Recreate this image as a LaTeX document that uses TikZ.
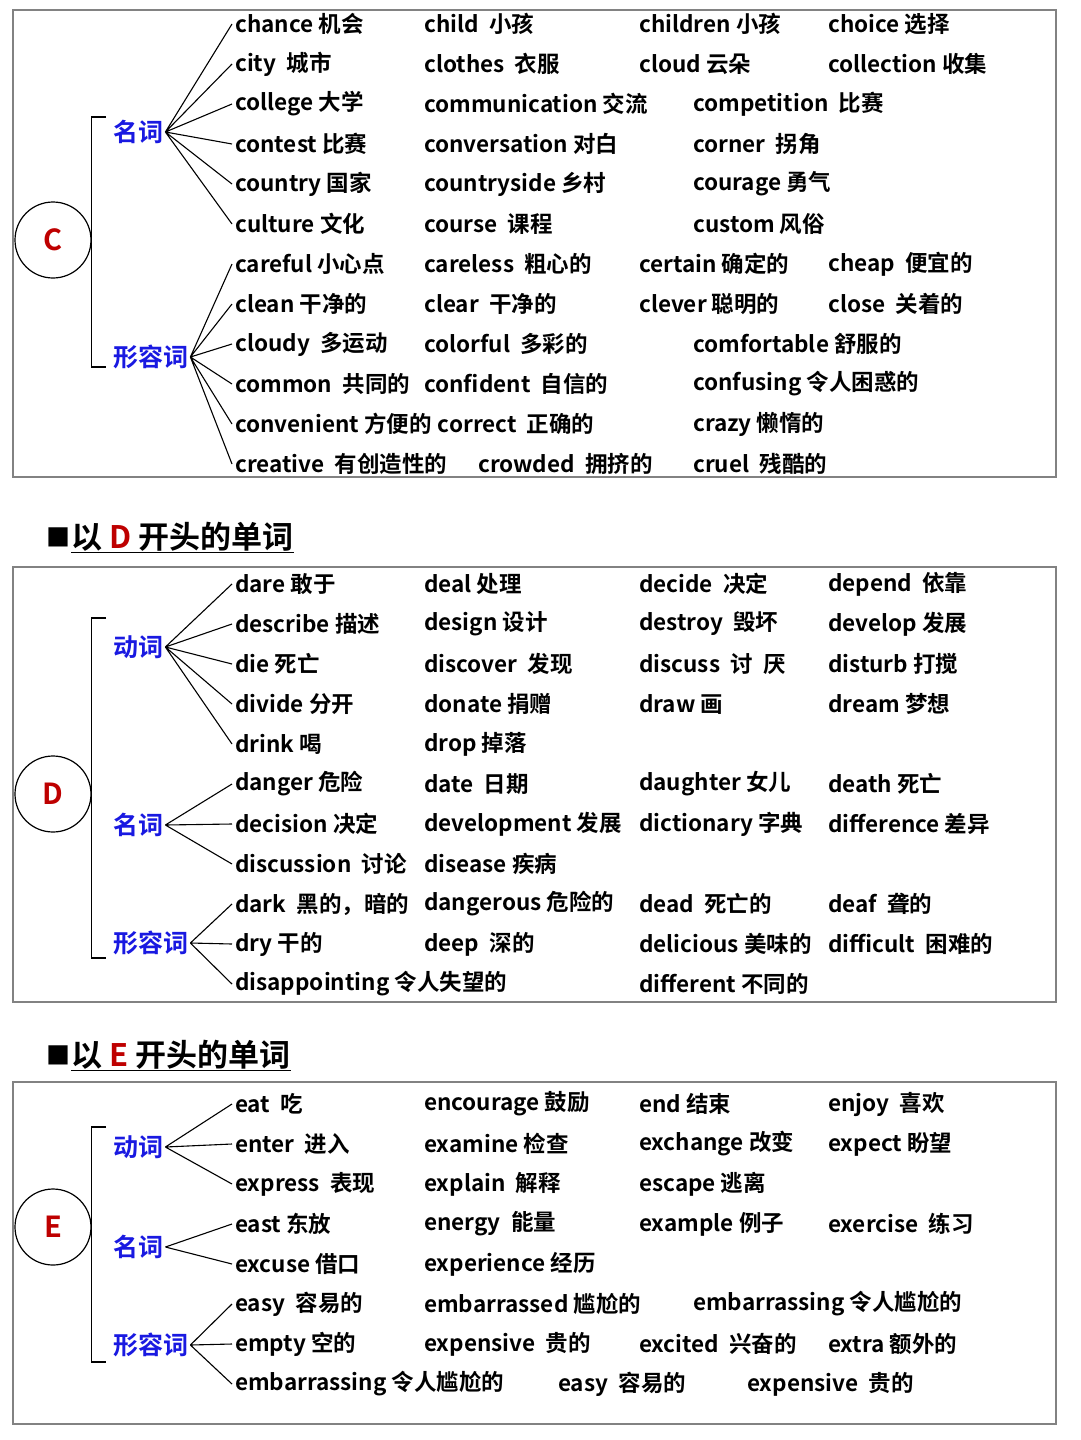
\documentclass[tikz,border=0pt]{standalone}
\usepackage{fontspec}
\setmainfont{Noto Sans CJK SC Bold}
\usetikzlibrary{positioning}
\definecolor{catblue}{RGB}{25,25,225}
\definecolor{letred}{RGB}{190,0,0}
\definecolor{framegray}{RGB}{130,130,130}

\begin{document}
\begin{tikzpicture}[x=1pt, y=-1pt,
  every node/.style={inner sep=0pt},
  word/.style={anchor=west, inner xsep=3pt, font=\fontsize{22.5}{22.5}\selectfont},
  cat/.style={anchor=west, inner xsep=2pt, text=catblue, font=\fontsize{25}{25}\selectfont},
  letter/.style={draw, circle, line width=1.2pt, minimum size=76pt, text=letred, font=\fontsize{29}{29}\selectfont},
  title/.style={anchor=west, font=\fontsize{31}{31}\selectfont},
  mark sq/.style={anchor=west, font=\fontsize{24}{24}\selectfont},
  panel/.style={draw=framegray, line width=1.3pt},
  fan/.style={line width=1.1pt},
  brace/.style={line width=1.3pt}]
  \useasboundingbox (0,0) rectangle (1080,1440);

  % C
  \draw[panel] (13,10) rectangle (1056,477);
  \node[letter] (lc) at (53,240) {C};
  \node[cat] (cn) at (111,132) {名词};
  \node[cat] (ca) at (111,357) {形容词};
  \draw[brace] (106,117) -| (lc.east) |- (106,367);

  \node[word] (c1a) at (232,24) {chance 机会};
  \node[word] (c1b) at (421,24) {child~~小孩};
  \node[word] (c1c) at (636,24) {children 小孩};
  \node[word] (c1d) at (825,24) {choice 选择};
  \node[word] (c2a) at (232,64) {city~~城市};
  \node[word] (c2b) at (421,64) {clothes~~衣服};
  \node[word] (c2c) at (636,64) {cloud 云朵};
  \node[word] (c2d) at (825,64) {collection 收集};
  \node[word] (c3a) at (232,104) {college 大学};
  \node[word] (c3b) at (421,104) {communication 交流};
  \node[word] (c3c) at (690,104) {competition~~比赛};
  \node[word] (c4a) at (232,144) {contest 比赛};
  \node[word] (c4b) at (421,144) {conversation 对白};
  \node[word] (c4c) at (690,144) {corner~~拐角};
  \node[word] (c5a) at (232,184) {country 国家};
  \node[word] (c5b) at (421,184) {countryside 乡村};
  \node[word] (c5c) at (690,184) {courage 勇气};
  \node[word] (c6a) at (232,224) {culture 文化};
  \node[word] (c6b) at (421,224) {course~~课程};
  \node[word] (c6c) at (690,224) {custom 风俗};

  \node[word] (c7a) at (232,264) {careful 小心点};
  \node[word] (c7b) at (421,264) {careless~~粗心的};
  \node[word] (c7c) at (636,264) {certain 确定的};
  \node[word] (c7d) at (825,264) {cheap~~便宜的};
  \node[word] (c8a) at (232,304) {clean 干净的};
  \node[word] (c8b) at (421,304) {clear~~干净的};
  \node[word] (c8c) at (636,304) {clever 聪明的};
  \node[word] (c8d) at (825,304) {close~~关着的};
  \node[word] (c9a) at (232,344) {cloudy~~多运动};
  \node[word] (c9b) at (421,344) {colorful~~多彩的};
  \node[word] (c9c) at (690,344) {comfortable 舒服的};
  \node[word] (c10a) at (232,384) {common~~共同的};
  \node[word] (c10b) at (421,384) {confident~~自信的};
  \node[word] (c10c) at (690,384) {confusing 令人困惑的};
  \node[word] (c11a) at (232,424) {convenient 方便的};
  \node[word, right=0pt of c11a] (c11b) {correct~~正确的};
  \node[word] (c11c) at (690,424) {crazy 懒惰的};
  \node[word] (c12a) at (232,464) {creative~~有创造性的};
  \node[word] (c12b) at (475,464) {crowded~~拥挤的};
  \node[word] (c12c) at (690,464) {cruel~~残酷的};

  \draw[fan] (cn.east) -- (c1a.west) (cn.east) -- (c2a.west) (cn.east) -- (c3a.west)
    (cn.east) -- (c4a.west) (cn.east) -- (c5a.west) (cn.east) -- (c6a.west);
  \draw[fan] (ca.east) -- (c7a.west) (ca.east) -- (c8a.west) (ca.east) -- (c9a.west)
    (ca.east) -- (c10a.west) (ca.east) -- (c11a.west) (ca.east) -- (c12a.west);

  % D
  \node[mark sq] (dsq) at (46,537) {■};
  \node[title, right=1pt of dsq] (dtitle) {以 \textcolor{letred}{D} 开头的单词};
  \draw[line width=1.2pt] ([yshift=-1pt]dtitle.south west) -- ([yshift=-1pt]dtitle.south east);
  \draw[panel] (13,567) rectangle (1056,1002);
  \node[letter] (ld) at (53,794) {D};
  \node[cat] (dv) at (111,647) {动词};
  \node[cat] (dn) at (111,825) {名词};
  \node[cat] (da) at (111,943) {形容词};
  \draw[brace] (106,618) -| (ld.east) |- (106,958);

  \node[word] (d1a) at (232,584) {dare 敢于};
  \node[word] (d1b) at (421,584) {deal 处理};
  \node[word] (d1c) at (636,584) {decide~~决定};
  \node[word] (d1d) at (825,584) {depend~~依靠};
  \node[word] (d2a) at (232,624) {describe 描述};
  \node[word] (d2b) at (421,624) {design 设计};
  \node[word] (d2c) at (636,624) {destroy~~毁坏};
  \node[word] (d2d) at (825,624) {develop 发展};
  \node[word] (d3a) at (232,664) {die 死亡};
  \node[word] (d3b) at (421,664) {discover~~发现};
  \node[word] (d3c) at (636,664) {discuss~~讨~~厌};
  \node[word] (d3d) at (825,664) {disturb 打搅};
  \node[word] (d4a) at (232,704) {divide 分开};
  \node[word] (d4b) at (421,704) {donate 捐赠};
  \node[word] (d4c) at (636,704) {draw 画};
  \node[word] (d4d) at (825,704) {dream 梦想};
  \node[word] (d5a) at (232,744) {drink 喝};
  \node[word] (d5b) at (421,744) {drop 掉落};

  \node[word] (d6a) at (232,784) {danger 危险};
  \node[word] (d6b) at (421,784) {date~~日期};
  \node[word] (d6c) at (636,784) {daughter 女儿};
  \node[word] (d6d) at (825,784) {death 死亡};
  \node[word] (d7a) at (232,824) {decision 决定};
  \node[word] (d7b) at (421,824) {development 发展};
  \node[word] (d7c) at (636,824) {dictionary 字典};
  \node[word] (d7d) at (825,824) {difference 差异};
  \node[word] (d8a) at (232,864) {discussion~~讨论};
  \node[word] (d8b) at (421,864) {disease 疾病};

  \node[word] (d9a) at (232,904) {dark~~黑的，暗的};
  \node[word] (d9b) at (421,904) {dangerous 危险的};
  \node[word] (d9c) at (636,904) {dead~~死亡的};
  \node[word] (d9d) at (825,904) {deaf~~聋的};
  \node[word] (d10a) at (232,944) {dry 干的};
  \node[word] (d10b) at (421,944) {deep~~深的};
  \node[word] (d10c) at (636,944) {delicious 美味的};
  \node[word] (d10d) at (825,944) {difficult~~困难的};
  \node[word] (d11a) at (232,984) {disappointing 令人失望的};
  \node[word] (d11c) at (636,984) {different 不同的};

  \draw[fan] (dv.east) -- (d1a.west) (dv.east) -- (d2a.west) (dv.east) -- (d3a.west)
    (dv.east) -- (d4a.west) (dv.east) -- (d5a.west);
  \draw[fan] (dn.east) -- (d6a.west) (dn.east) -- (d7a.west) (dn.east) -- (d8a.west);
  \draw[fan] (da.east) -- (d9a.west) (da.east) -- (d10a.west) (da.east) -- (d11a.west);

  % E
  \node[mark sq] (esq) at (46,1055) {■};
  \node[title, right=1pt of esq] (etitle) {以 \textcolor{letred}{E} 开头的单词};
  \draw[line width=1.2pt] ([yshift=-1pt]etitle.south west) -- ([yshift=-1pt]etitle.south east);
  \draw[panel] (13,1082) rectangle (1056,1424);
  \node[letter] (le) at (53,1227) {E};
  \node[cat] (ev) at (111,1147) {动词};
  \node[cat] (en) at (111,1247) {名词};
  \node[cat] (ea) at (111,1345) {形容词};
  \draw[brace] (106,1127) -| (le.east) |- (106,1362);

  \node[word] (e1a) at (232,1104) {eat~~吃};
  \node[word] (e1b) at (421,1104) {encourage 鼓励};
  \node[word] (e1c) at (636,1104) {end 结束};
  \node[word] (e1d) at (825,1104) {enjoy~~喜欢};
  \node[word] (e2a) at (232,1144) {enter~~进入};
  \node[word] (e2b) at (421,1144) {examine 检查};
  \node[word] (e2c) at (636,1144) {exchange 改变};
  \node[word] (e2d) at (825,1144) {expect 盼望};
  \node[word] (e3a) at (232,1184) {express~~表现};
  \node[word] (e3b) at (421,1184) {explain~~解释};
  \node[word] (e3c) at (636,1184) {escape 逃离};

  \node[word] (e4a) at (232,1224) {east 东放};
  \node[word] (e4b) at (421,1224) {energy~~能量};
  \node[word] (e4c) at (636,1224) {example 例子};
  \node[word] (e4d) at (825,1224) {exercise~~练习};
  \node[word] (e5a) at (232,1264) {excuse 借口};
  \node[word] (e5b) at (421,1264) {experience 经历};

  \node[word] (e6a) at (232,1304) {easy~~容易的};
  \node[word] (e6b) at (421,1304) {embarrassed 尴尬的};
  \node[word] (e6c) at (690,1304) {embarrassing 令人尴尬的};
  \node[word] (e7a) at (232,1344) {empty 空的};
  \node[word] (e7b) at (421,1344) {expensive~~贵的};
  \node[word] (e7c) at (636,1344) {excited~~兴奋的};
  \node[word] (e7d) at (825,1344) {extra 额外的};
  \node[word] (e8a) at (232,1384) {embarrassing 令人尴尬的};
  \node[word] (e8b) at (555,1384) {easy~~容易的};
  \node[word] (e8c) at (744,1384) {expensive~~贵的};

  \draw[fan] (ev.east) -- (e1a.west) (ev.east) -- (e2a.west) (ev.east) -- (e3a.west);
  \draw[fan] (en.east) -- (e4a.west) (en.east) -- (e5a.west);
  \draw[fan] (ea.east) -- (e6a.west) (ea.east) -- (e7a.west) (ea.east) -- (e8a.west);
\end{tikzpicture}
\end{document}
